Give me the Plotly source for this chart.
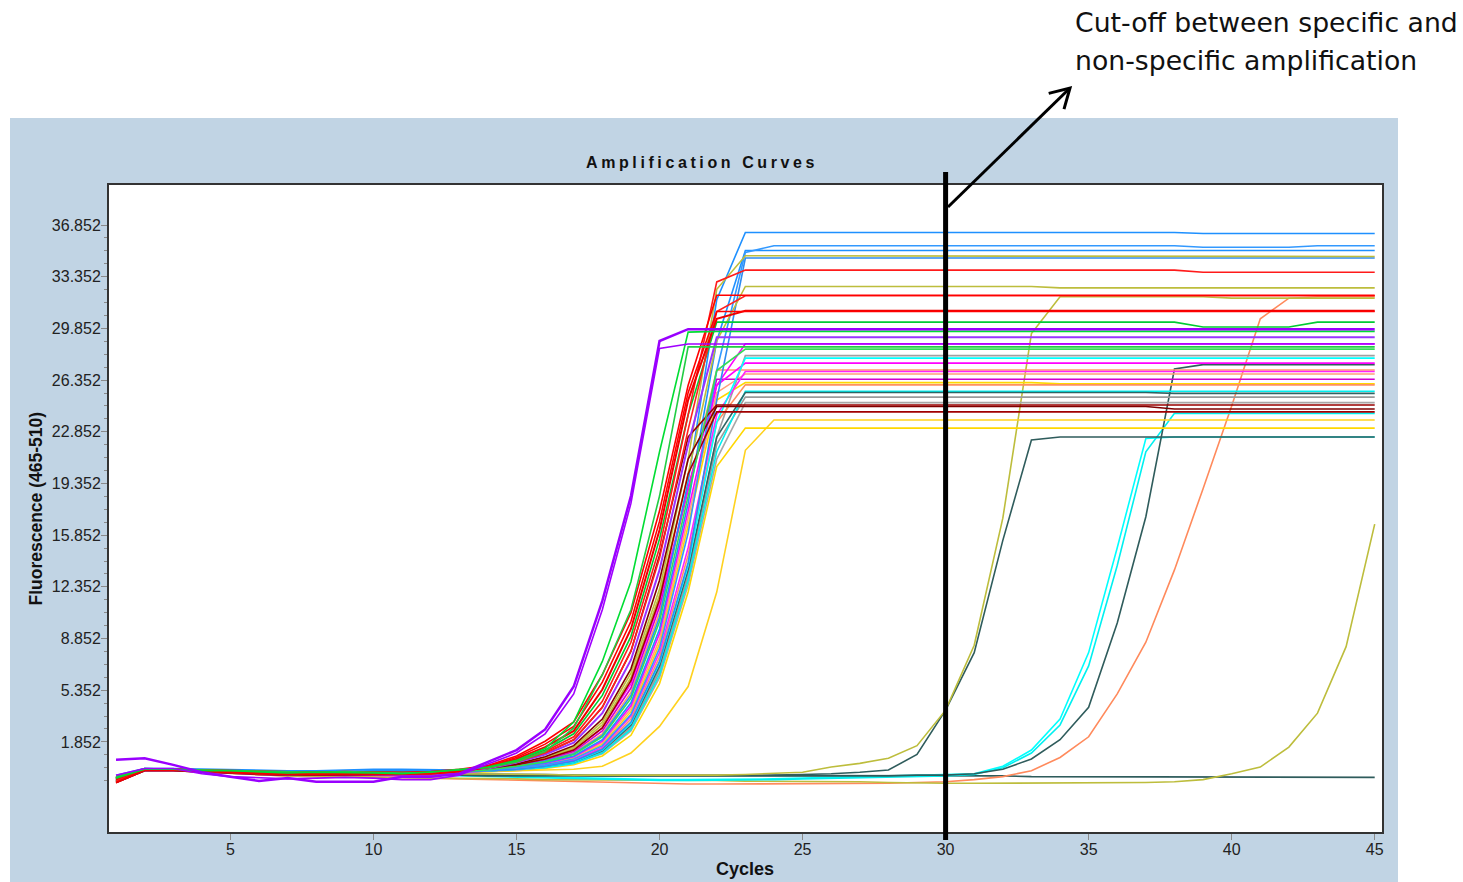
import plotly.graph_objects as go

# ---------------- data (fluorescence per cycle) ----------------
cycles = list(range(1, 46))

purple_a = [0.65, 0.75, 0.3, -0.2, -0.5, -0.8, -0.6, -0.85, -0.85, -0.85, -0.5, -0.5, -0.3,
            0.5, 1.3, 2.7, 5.6, 11.4, 18.5, 29.0, 29.8, 29.8, 29.8, 29.8, 29.8, 29.8, 29.8,
            29.8, 29.8, 29.8, 29.8, 29.8, 29.8, 29.8, 29.8, 29.8, 29.8, 29.8, 29.8, 29.8, 29.8,
            29.8, 29.8, 29.8, 29.8]
purple_b = [-0.4, 0.05, 0.05, -0.3, -0.5, -0.6, -0.65, -0.6, -0.55, -0.6, -0.7, -0.7, -0.4,
            0.35, 1.1, 2.4, 5.1, 10.8, 18.0, 28.5, 28.8, 28.8, 28.8, 28.8, 28.8, 28.8, 28.8,
            28.8, 28.8, 28.8, 28.8, 28.8, 28.8, 28.8, 28.8, 28.8, 28.8, 28.8, 28.8, 28.8, 28.8,
            28.8, 28.8, 28.8, 28.8]
green_a = [-0.6, 0.0, 0.0, -0.1, -0.1, -0.2, -0.25, -0.2, -0.2, -0.25, -0.3, -0.2, -0.05,
           0.15, 0.6, 1.4, 3.2, 7.3, 12.7, 21.5, 29.6, 29.65, 29.65, 29.65, 29.65, 29.65, 29.65,
           29.65, 29.65, 29.65, 29.65, 29.65, 29.65, 29.65, 29.65, 29.65, 29.65, 29.65, 29.65, 29.65, 29.65,
           29.65, 29.65, 29.65, 29.65]
green_b = [-0.5, 0.05, 0.0, -0.05, -0.1, -0.15, -0.2, -0.2, -0.15, -0.2, -0.25, -0.2, 0.0,
           0.1, 0.5, 1.2, 2.8, 6.4, 10.8, 18.5, 28.6, 28.6, 28.6, 28.6, 28.6, 28.6, 28.6,
           28.6, 28.6, 28.6, 28.6, 28.6, 28.6, 28.6, 28.6, 28.6, 28.6, 28.6, 28.6, 28.6, 28.6,
           28.6, 28.6, 28.6, 28.6]
red_a = [-0.7, 0.0, -0.05, -0.1, -0.15, -0.25, -0.3, -0.3, -0.25, -0.3, -0.3, -0.25, -0.1,
         0.2, 0.8, 1.7, 2.9, 5.9, 10.0, 16.8, 25.5, 31.0, 31.0, 31.0, 31.0, 31.0, 31.0,
         31.0, 31.0, 31.0, 31.0, 31.0, 31.0, 31.0, 31.0, 31.0, 31.0, 31.0, 31.0, 31.0, 31.0,
         31.0, 31.0, 31.0, 31.0]
red_b = [-0.9, -0.05, -0.05, -0.15, -0.2, -0.3, -0.35, -0.35, -0.3, -0.35, -0.35, -0.3, -0.15,
         0.15, 0.7, 1.5, 2.6, 5.4, 9.5, 16.2, 25.0, 30.5, 31.05, 31.05, 31.05, 31.05, 31.05,
         31.05, 31.05, 31.05, 31.05, 31.05, 31.05, 31.05, 31.05, 31.05, 31.05, 31.05, 31.05, 31.05, 31.05,
         31.05, 31.05, 31.05, 31.05]
red_c = [-0.6, 0.0, 0.0, -0.1, -0.15, -0.2, -0.3, -0.25, -0.25, -0.3, -0.3, -0.25, -0.1,
         0.1, 0.55, 1.2, 2.2, 4.6, 8.6, 15.0, 24.0, 33.0, 33.8, 33.8, 33.8, 33.8, 33.8,
         33.8, 33.8, 33.8, 33.8, 33.8, 33.8, 33.8, 33.8, 33.8, 33.8, 33.8, 33.65, 33.65, 33.65,
         33.65, 33.65, 33.65, 33.65]
red_d = [-0.8, -0.05, -0.05, -0.15, -0.2, -0.3, -0.3, -0.3, -0.3, -0.35, -0.35, -0.3, -0.15,
         0.1, 0.5, 1.1, 2.0, 4.2, 8.0, 14.3, 23.0, 31.0, 32.06, 32.06, 32.06, 32.06, 32.06,
         32.06, 32.06, 32.06, 32.06, 32.06, 32.06, 32.06, 32.06, 32.06, 32.06, 32.06, 32.06, 32.06, 32.06,
         32.06, 32.06, 32.06, 32.06]
red_e = [-0.5, 0.0, 0.0, -0.05, -0.1, -0.15, -0.2, -0.2, -0.15, -0.2, -0.2, -0.15, 0.0,
         0.25, 0.9, 1.9, 3.2, 6.4, 10.6, 17.5, 26.0, 32.1, 32.1, 32.1, 32.1, 32.1, 32.1,
         32.1, 32.1, 32.1, 32.1, 32.1, 32.1, 32.1, 32.1, 32.1, 32.1, 32.1, 32.1, 32.1, 32.1,
         32.1, 32.1, 32.1, 32.1]
darkred_a = [-0.7, 0.0, -0.05, -0.15, -0.2, -0.25, -0.3, -0.3, -0.3, -0.3, -0.35, -0.3, -0.15,
             0.1, 0.5, 1.1, 2.0, 4.2, 8.0, 14.5, 22.5, 24.67, 24.67, 24.67, 24.67, 24.67, 24.67,
             24.67, 24.67, 24.67, 24.67, 24.67, 24.67, 24.67, 24.67, 24.67, 24.67, 24.67, 24.67, 24.67, 24.67,
             24.67, 24.67, 24.67, 24.67]
darkred_b = [-0.9, -0.1, -0.1, -0.2, -0.25, -0.35, -0.4, -0.4, -0.35, -0.4, -0.4, -0.35, -0.2,
             0.05, 0.35, 0.85, 1.6, 3.4, 6.8, 12.8, 21.0, 24.56, 24.56, 24.56, 24.56, 24.56, 24.56,
             24.56, 24.56, 24.56, 24.56, 24.56, 24.56, 24.56, 24.56, 24.56, 24.56, 24.4, 24.4, 24.4, 24.4,
             24.4, 24.4, 24.4, 24.4]
darkred_c = [-0.6, 0.0, 0.0, -0.1, -0.15, -0.2, -0.25, -0.25, -0.2, -0.25, -0.3, -0.25, -0.1,
             0.0, 0.3, 0.7, 1.3, 2.8, 6.0, 11.5, 20.0, 24.2, 24.2, 24.2, 24.2, 24.2, 24.2,
             24.2, 24.2, 24.2, 24.2, 24.2, 24.2, 24.2, 24.2, 24.2, 24.2, 24.2, 24.2, 24.2, 24.2,
             24.2, 24.2, 24.2, 24.2]
blue_a = [-0.5, 0.05, 0.0, -0.05, -0.1, -0.15, -0.2, -0.15, -0.15, -0.1, -0.05, -0.1, -0.1,
          0.0, 0.2, 0.55, 1.05, 2.3, 5.0, 10.3, 19.5, 31.8, 36.35, 36.35, 36.35, 36.35, 36.35,
          36.35, 36.35, 36.35, 36.35, 36.35, 36.35, 36.35, 36.35, 36.35, 36.35, 36.35, 36.28, 36.28, 36.28,
          36.28, 36.28, 36.28, 36.28]
blue_b = [-0.7, 0.0, -0.05, -0.1, -0.15, -0.2, -0.2, -0.2, -0.2, -0.1, -0.1, -0.15, -0.15,
          -0.05, 0.1, 0.3, 0.7, 1.6, 3.7, 8.2, 16.0, 27.0, 35.0, 35.45, 35.45, 35.45, 35.45,
          35.45, 35.45, 35.45, 35.45, 35.45, 35.45, 35.45, 35.45, 35.45, 35.45, 35.45, 35.35, 35.35, 35.35,
          35.35, 35.45, 35.45, 35.45]
blue_c = [-0.4, 0.05, 0.05, 0.0, -0.05, -0.1, -0.1, -0.1, -0.05, 0.0, 0.0, -0.05, -0.05,
          -0.05, 0.15, 0.45, 0.9, 2.0, 4.5, 9.5, 18.0, 29.0, 35.13, 35.13, 35.13, 35.13, 35.13,
          35.13, 35.13, 35.13, 35.13, 35.13, 35.13, 35.13, 35.13, 35.13, 35.13, 35.13, 35.13, 35.13, 35.13,
          35.13, 35.13, 35.13, 35.13]
blue_d = [-0.8, -0.05, -0.05, -0.15, -0.2, -0.25, -0.3, -0.3, -0.2, -0.15, -0.15, -0.2, -0.2,
          -0.1, 0.0, 0.2, 0.55, 1.35, 3.2, 7.3, 14.0, 25.0, 34.62, 34.62, 34.62, 34.62, 34.62,
          34.62, 34.62, 34.62, 34.62, 34.62, 34.62, 34.62, 34.62, 34.62, 34.62, 34.62, 34.62, 34.62, 34.62,
          34.62, 34.62, 34.62, 34.62]
olive_a = [-0.6, 0.0, 0.0, -0.1, -0.15, -0.2, -0.25, -0.25, -0.2, -0.25, -0.25, -0.2, -0.05,
           0.05, 0.35, 0.8, 1.5, 3.2, 6.5, 12.2, 21.0, 32.5, 34.77, 34.77, 34.77, 34.77, 34.77,
           34.77, 34.77, 34.77, 34.77, 34.77, 34.77, 34.72, 34.72, 34.72, 34.72, 34.72, 34.72, 34.72, 34.72,
           34.72, 34.72, 34.72, 34.72]
olive_b = [-0.7, -0.05, 0.0, -0.1, -0.2, -0.25, -0.3, -0.3, -0.25, -0.3, -0.3, -0.25, -0.1,
           0.0, 0.3, 0.75, 1.4, 3.0, 6.2, 11.8, 20.0, 29.0, 32.69, 32.69, 32.69, 32.69, 32.69,
           32.69, 32.69, 32.69, 32.69, 32.69, 32.69, 32.6, 32.6, 32.6, 32.6, 32.6, 32.6, 32.6, 32.6,
           32.6, 32.6, 32.6, 32.6]
green_c = [-0.5, 0.0, 0.0, -0.05, -0.1, -0.2, -0.2, -0.2, -0.2, -0.2, -0.25, -0.2, -0.05,
           0.1, 0.6, 1.3, 2.4, 5.0, 9.0, 15.6, 24.0, 30.28, 30.28, 30.28, 30.28, 30.28, 30.28,
           30.28, 30.28, 30.28, 30.28, 30.28, 30.28, 30.28, 30.28, 30.28, 30.28, 30.28, 29.95, 29.95, 29.95,
           29.95, 30.28, 30.28, 30.28]
green_d = [-0.8, -0.05, -0.05, -0.15, -0.2, -0.3, -0.35, -0.35, -0.3, -0.35, -0.35, -0.3, -0.15,
           -0.05, 0.2, 0.5, 1.0, 2.2, 4.8, 10.0, 18.5, 27.0, 28.45, 28.45, 28.45, 28.45, 28.45,
           28.45, 28.45, 28.45, 28.45, 28.45, 28.45, 28.45, 28.45, 28.45, 28.45, 28.45, 28.45, 28.45, 28.45,
           28.45, 28.45, 28.45, 28.45]
purple_c = [-0.6, 0.0, 0.0, -0.1, -0.2, -0.3, -0.35, -0.3, -0.3, -0.3, -0.35, -0.35, -0.2,
            0.05, 0.45, 1.0, 1.8, 3.8, 7.4, 13.5, 22.0, 29.26, 29.26, 29.26, 29.26, 29.26, 29.26,
            29.26, 29.26, 29.26, 29.26, 29.26, 29.26, 29.26, 29.26, 29.26, 29.26, 29.26, 29.26, 29.26, 29.26,
            29.26, 29.26, 29.26, 29.26]
magenta_a = [-0.7, -0.05, -0.05, -0.1, -0.2, -0.25, -0.3, -0.3, -0.25, -0.3, -0.35, -0.3, -0.15,
             0.0, 0.3, 0.7, 1.3, 2.8, 5.8, 11.3, 19.0, 26.0, 28.81, 28.81, 28.81, 28.81, 28.81,
             28.81, 28.81, 28.81, 28.81, 28.81, 28.81, 28.81, 28.81, 28.81, 28.81, 28.81, 28.81, 28.81, 28.81,
             28.81, 28.81, 28.81, 28.81]
magenta_b = [-0.5, 0.0, 0.0, -0.05, -0.1, -0.15, -0.2, -0.2, -0.15, -0.2, -0.2, -0.15, -0.05,
             -0.05, 0.15, 0.4, 0.85, 1.9, 4.3, 9.2, 17.5, 26.0, 27.5, 27.5, 27.5, 27.5, 27.5,
             27.5, 27.5, 27.5, 27.5, 27.5, 27.5, 27.5, 27.5, 27.5, 27.5, 27.5, 27.5, 27.5, 27.5,
             27.5, 27.5, 27.5, 27.5]
magenta_c = [-0.9, -0.1, -0.1, -0.2, -0.25, -0.35, -0.4, -0.4, -0.35, -0.4, -0.45, -0.4, -0.25,
             -0.1, 0.05, 0.25, 0.6, 1.5, 3.6, 7.9, 15.0, 24.0, 26.93, 26.93, 26.93, 26.93, 26.93,
             26.93, 26.93, 26.93, 26.93, 26.93, 26.93, 26.93, 26.93, 26.93, 26.93, 26.93, 26.93, 26.93, 26.93,
             26.93, 26.93, 26.93, 26.93]
magenta_d = [-0.6, 0.0, -0.05, -0.1, -0.15, -0.2, -0.25, -0.25, -0.2, -0.25, -0.3, -0.25, -0.1,
             0.0, 0.25, 0.65, 1.2, 2.6, 5.5, 11.0, 19.0, 26.41, 26.41, 26.41, 26.41, 26.41, 26.41,
             26.41, 26.41, 26.41, 26.41, 26.41, 26.41, 26.41, 26.41, 26.41, 26.41, 26.41, 26.41, 26.41, 26.41,
             26.41, 26.41, 26.41, 26.41]
gray_a = [-0.8, -0.05, -0.05, -0.15, -0.2, -0.3, -0.35, -0.35, -0.3, -0.35, -0.4, -0.35, -0.25,
          -0.1, 0.0, 0.15, 0.45, 1.2, 2.9, 6.8, 13.2, 22.5, 28.01, 28.01, 28.01, 28.01, 28.01,
          28.01, 28.01, 28.01, 28.01, 28.01, 28.01, 28.01, 28.01, 28.01, 28.01, 28.01, 28.01, 28.01, 28.01,
          28.01, 28.01, 28.01, 28.01]
gray_b = [-0.7, -0.05, -0.05, -0.15, -0.2, -0.25, -0.3, -0.3, -0.3, -0.3, -0.35, -0.3, -0.2,
          -0.15, -0.05, 0.1, 0.4, 1.05, 2.6, 6.2, 12.5, 21.0, 24.83, 24.83, 24.83, 24.83, 24.83,
          24.83, 24.83, 24.83, 24.83, 24.83, 24.83, 24.83, 24.83, 24.83, 24.83, 24.83, 24.83, 24.83, 24.83,
          24.83, 24.83, 24.83, 24.83]
gray_c = [-0.9, -0.1, -0.1, -0.2, -0.25, -0.35, -0.4, -0.4, -0.35, -0.4, -0.45, -0.4, -0.3,
          -0.1, -0.05, 0.15, 0.45, 1.15, 2.8, 6.6, 13.0, 22.0, 25.2, 25.2, 25.2, 25.2, 25.2,
          25.2, 25.2, 25.2, 25.2, 25.2, 25.2, 25.2, 25.2, 25.2, 25.2, 25.2, 25.2, 25.2, 25.2,
          25.2, 25.2, 25.2, 25.2]
cyan_a = [-0.6, 0.0, 0.0, -0.1, -0.15, -0.2, -0.25, -0.2, -0.2, -0.25, -0.25, -0.2, -0.1,
          -0.1, 0.0, 0.2, 0.5, 1.3, 3.1, 7.2, 13.8, 23.5, 27.84, 27.84, 27.84, 27.84, 27.84,
          27.84, 27.84, 27.84, 27.84, 27.84, 27.84, 27.84, 27.84, 27.84, 27.84, 27.84, 27.84, 27.84, 27.84,
          27.84, 27.84, 27.84, 27.84]
cyan_b = [-0.8, -0.05, -0.05, -0.15, -0.2, -0.3, -0.3, -0.3, -0.3, -0.3, -0.35, -0.3, -0.2,
          -0.1, -0.05, 0.1, 0.4, 1.1, 2.7, 6.4, 12.8, 21.5, 25.6, 25.6, 25.6, 25.6, 25.6,
          25.6, 25.6, 25.6, 25.6, 25.6, 25.6, 25.6, 25.6, 25.6, 25.6, 25.6, 25.6, 25.6, 25.6,
          25.6, 25.6, 25.6, 25.6]
salmon_a = [-0.6, 0.0, 0.0, -0.1, -0.15, -0.2, -0.25, -0.25, -0.2, -0.25, -0.3, -0.25, -0.1,
            0.0, 0.25, 0.6, 1.1, 2.4, 5.2, 10.6, 19.0, 27.04, 27.04, 27.04, 27.04, 27.04, 27.04,
            27.04, 27.04, 27.04, 27.04, 27.04, 27.04, 27.04, 27.04, 27.04, 27.04, 27.04, 27.04, 27.04, 27.04,
            27.04, 27.04, 27.04, 27.04]
salmon_b = [-0.7, -0.05, -0.05, -0.15, -0.2, -0.25, -0.3, -0.3, -0.25, -0.3, -0.35, -0.3, -0.15,
            -0.05, 0.1, 0.35, 0.8, 1.8, 4.1, 8.8, 17.0, 25.5, 26.77, 26.77, 26.77, 26.77, 26.77,
            26.77, 26.77, 26.77, 26.77, 26.77, 26.77, 26.77, 26.77, 26.77, 26.77, 26.77, 26.77, 26.77, 26.77,
            26.77, 26.77, 26.77, 26.77]
salmon_c = [-0.9, -0.1, -0.1, -0.2, -0.3, -0.35, -0.4, -0.4, -0.35, -0.4, -0.45, -0.4, -0.25,
            -0.1, 0.05, 0.25, 0.6, 1.4, 3.4, 7.6, 14.5, 23.5, 26.03, 26.03, 26.03, 26.03, 26.03,
            26.03, 26.03, 26.03, 26.03, 26.03, 26.03, 26.03, 26.03, 26.03, 26.03, 26.03, 26.03, 26.03, 26.03,
            26.03, 26.03, 26.03, 26.03]
yellow_a = [-0.6, 0.0, 0.0, -0.1, -0.15, -0.2, -0.25, -0.25, -0.2, -0.25, -0.25, -0.2, -0.1,
            -0.05, 0.1, 0.35, 0.75, 1.7, 3.9, 8.5, 16.5, 25.0, 26.18, 26.18, 26.18, 26.18, 26.18,
            26.18, 26.18, 26.18, 26.18, 26.18, 26.18, 26.1, 26.1, 26.1, 26.1, 26.1, 26.1, 26.1, 26.1,
            26.1, 26.1, 26.1, 26.1]
yellow_b = [-0.8, -0.05, -0.05, -0.15, -0.25, -0.3, -0.35, -0.35, -0.35, -0.35, -0.4, -0.35, -0.25,
            -0.15, -0.1, -0.05, 0.0, 0.2, 1.1, 2.9, 5.6, 12.0, 21.6, 23.65, 23.65, 23.65, 23.65,
            23.65, 23.65, 23.65, 23.65, 23.65, 23.65, 23.65, 23.65, 23.65, 23.65, 23.65, 23.65, 23.65, 23.65,
            23.65, 23.65, 23.65, 23.65]
yellow_c = [-0.7, -0.05, -0.05, -0.1, -0.2, -0.25, -0.3, -0.3, -0.25, -0.3, -0.3, -0.25, -0.15,
            -0.15, -0.1, 0.05, 0.3, 0.9, 2.3, 5.8, 12.0, 20.5, 23.1, 23.1, 23.1, 23.1, 23.1,
            23.1, 23.1, 23.1, 23.1, 23.1, 23.1, 23.1, 23.1, 23.1, 23.1, 23.1, 23.1, 23.1, 23.1,
            23.1, 23.1, 23.1, 23.1]
teal_a = [-0.7, -0.05, -0.05, -0.15, -0.2, -0.25, -0.3, -0.3, -0.25, -0.3, -0.35, -0.3, -0.15,
          -0.1, 0.0, 0.2, 0.5, 1.25, 3.0, 7.0, 13.5, 22.5, 25.51, 25.51, 25.51, 25.51, 25.51,
          25.51, 25.51, 25.51, 25.51, 25.51, 25.51, 25.51, 25.51, 25.51, 25.51, 25.45, 25.45, 25.45, 25.45,
          25.45, 25.45, 25.45, 25.45]
olive_late1 = [-0.6, 0.0, 0.0, -0.1, -0.15, -0.2, -0.25, -0.25, -0.25, -0.3, -0.3, -0.3, -0.3,
               -0.3, -0.35, -0.35, -0.4, -0.4, -0.45, -0.45, -0.45, -0.4, -0.35, -0.3, -0.2, 0.15, 0.4,
               0.75, 1.6, 4.0, 8.4, 17.0, 29.5, 32.0, 32.0, 32.0, 32.0, 32.0, 32.0, 31.9, 31.9,
               31.9, 31.9, 31.9, 31.9]
teal_late1 = [-0.7, -0.05, -0.05, -0.15, -0.2, -0.25, -0.3, -0.3, -0.3, -0.35, -0.35, -0.35, -0.35,
              -0.35, -0.4, -0.4, -0.4, -0.45, -0.45, -0.45, -0.45, -0.45, -0.45, -0.4, -0.35, -0.3, -0.2,
              -0.05, 1.0, 4.0, 7.9, 15.5, 22.3, 22.5, 22.5, 22.5, 22.5, 22.5, 22.5, 22.5, 22.5,
              22.5, 22.5, 22.5, 22.5]
cyan_late_a = [-0.6, 0.0, 0.0, -0.1, -0.2, -0.25, -0.3, -0.3, -0.3, -0.3, -0.35, -0.35, -0.4,
               -0.45, -0.5, -0.55, -0.6, -0.65, -0.7, -0.7, -0.7, -0.7, -0.7, -0.65, -0.6, -0.55, -0.5,
               -0.5, -0.45, -0.4, -0.3, 0.2, 1.3, 3.4, 7.9, 15.0, 22.4, 22.5, 22.5, 22.5, 22.5,
               22.5, 22.5, 22.5, 22.5]
cyan_late_b = [-0.7, -0.05, -0.05, -0.15, -0.2, -0.3, -0.3, -0.3, -0.35, -0.35, -0.35, -0.4, -0.45,
               -0.5, -0.55, -0.6, -0.65, -0.7, -0.75, -0.75, -0.75, -0.75, -0.7, -0.7, -0.65, -0.6, -0.55,
               -0.55, -0.5, -0.45, -0.35, 0.1, 1.1, 3.0, 7.0, 13.8, 21.5, 24.1, 24.1, 24.1, 24.1,
               24.1, 24.1, 24.1, 24.1]
teal_late2 = [-0.8, -0.05, -0.05, -0.15, -0.2, -0.3, -0.35, -0.35, -0.35, -0.35, -0.4, -0.4, -0.4,
              -0.45, -0.45, -0.45, -0.45, -0.45, -0.5, -0.5, -0.5, -0.5, -0.5, -0.5, -0.5, -0.45, -0.45,
              -0.45, -0.4, -0.4, -0.3, 0.0, 0.7, 2.0, 4.2, 9.9, 17.1, 27.1, 27.4, 27.4, 27.4,
              27.4, 27.4, 27.4, 27.4]
salmon_late = [-0.9, -0.1, -0.1, -0.2, -0.3, -0.4, -0.45, -0.45, -0.5, -0.5, -0.55, -0.6, -0.65,
               -0.7, -0.75, -0.8, -0.85, -0.9, -0.95, -0.95, -1.0, -1.0, -1.0, -1.0, -1.0, -0.95, -0.95,
               -0.95, -0.9, -0.85, -0.7, -0.5, -0.1, 0.8, 2.2, 5.1, 8.6, 13.5, 19.0, 24.6, 30.5,
               31.9, 32.0, 32.0, 32.0]
olive_late2 = [-0.9, -0.1, -0.1, -0.2, -0.3, -0.4, -0.45, -0.5, -0.5, -0.55, -0.55, -0.6, -0.6,
               -0.65, -0.65, -0.7, -0.7, -0.7, -0.75, -0.75, -0.75, -0.75, -0.8, -0.8, -0.8, -0.85, -0.85,
               -0.9, -0.95, -0.95, -0.95, -0.95, -0.95, -0.95, -0.95, -0.95, -0.9, -0.85, -0.7, -0.3, 0.15,
               1.5, 3.8, 8.3, 16.6]
teal_flat = [-0.7, -0.05, -0.05, -0.15, -0.2, -0.25, -0.3, -0.3, -0.3, -0.3, -0.3, -0.35, -0.35,
             -0.35, -0.35, -0.35, -0.4, -0.4, -0.4, -0.4, -0.4, -0.4, -0.4, -0.4, -0.4, -0.4, -0.4,
             -0.4, -0.4, -0.45, -0.45, -0.45, -0.5, -0.5, -0.5, -0.55, -0.55, -0.55, -0.55, -0.55, -0.55,
             -0.55, -0.55, -0.55, -0.55]

# (values, colour, line width)
series = [
    (teal_flat, "#2F5C5C", 1.6), (salmon_late, "#FF8A5C", 1.6), (olive_late2, "#BDBD3C", 1.6),
    (cyan_late_a, "#00FFFF", 1.6), (cyan_late_b, "#00F0F0", 1.6), (teal_late2, "#2F5C5C", 1.6),
    (teal_late1, "#2F5C5C", 1.6), (olive_late1, "#BDBD3C", 1.6),
    (yellow_b, "#FFD21F", 1.6), (yellow_c, "#FFD700", 1.6), (gray_c, "#9A9A9A", 1.6),
    (gray_b, "#A8A8A8", 1.6), (gray_a, "#A0A0A0", 1.6), (cyan_b, "#00F0F0", 1.6),
    (teal_a, "#2F6464", 1.6), (yellow_a, "#FFD700", 1.6), (salmon_c, "#FF9060", 1.6),
    (salmon_b, "#FFA07A", 1.6), (salmon_a, "#FF9966", 1.6), (magenta_d, "#D000D0", 1.6),
    (magenta_c, "#FF22FF", 1.6), (magenta_b, "#FF00FF", 1.6), (magenta_a, "#FF00FF", 1.6),
    (cyan_a, "#00FFFF", 1.6), (blue_d, "#2E8BF0", 1.6), (blue_c, "#1E90FF", 1.6),
    (blue_b, "#3399FF", 1.6), (blue_a, "#1E90FF", 1.6), (olive_b, "#BDBD3C", 1.6),
    (olive_a, "#BDBD3C", 1.6), (darkred_c, "#A00000", 1.6), (darkred_b, "#800000", 1.6),
    (darkred_a, "#990000", 1.6), (purple_c, "#9933FF", 2.0), (green_d, "#33DD55", 1.6),
    (green_c, "#00CC33", 1.6), (red_d, "#FF2020", 1.6), (red_c, "#FF1A1A", 1.6),
    (red_b, "#EE0000", 2.0), (red_a, "#FF0000", 1.6), (red_e, "#FF0000", 1.6),
    (green_b, "#22CC44", 1.6), (green_a, "#00DD33", 1.6), (purple_b, "#A000FF", 1.6),
    (purple_a, "#9900FF", 2.5),
]

y_ticks = [1.852, 5.352, 8.852, 12.352, 15.852, 19.352, 22.852, 26.352, 29.852, 33.352, 36.852]
x_ticks = [5, 10, 15, 20, 25, 30, 35, 40, 45]
cutoff_cycle = 30

# ---------------- layout geometry ----------------
W, H = 1463, 882
L, R, T, B = 109, 1382, 185, 832
x_range = [0.755, 45.255]
y_range = [-4.248, 39.563]


def fx(px):
    return (px - L) / (R - L)


def fy(py):
    return (B - py) / (B - T)


fig = go.Figure()
for vals, col, w in series:
    fig.add_trace(go.Scatter(x=cycles[:len(vals)], y=vals, mode="lines",
                             line=dict(color=col, width=w), showlegend=False,
                             hoverinfo="skip"))

tick_font = dict(family="Liberation Sans, Arial, sans-serif", size=16, color="#222222")
minor_vals = [round(1.852 + 0.875 * k, 3) for k in range(-3, 41) if k % 4 != 0]

fig.update_layout(
    width=W, height=H,
    margin=dict(l=L, r=W - R, t=T, b=H - B, pad=0),
    paper_bgcolor="#C1D4E4",
    plot_bgcolor="#FFFFFF",
    showlegend=False,
    xaxis=dict(range=x_range, tickvals=x_ticks, ticktext=[str(v) for v in x_ticks],
               ticks="outside", ticklen=6, tickcolor="#8A8A8A", tickwidth=1,
               ticklabelstandoff=-4,
               showgrid=False, zeroline=False, showline=True, mirror=True,
               linecolor="#333333", linewidth=2, tickfont=tick_font),
    yaxis=dict(range=y_range, tickvals=y_ticks, ticktext=["%.3f" % v for v in y_ticks],
               ticks="outside", ticklen=6, tickcolor="#8A8A8A", tickwidth=1,
               ticklabelstandoff=-3,
               minor=dict(tickvals=minor_vals, ticks="outside", ticklen=3,
                          tickcolor="#8A8A8A", showgrid=False),
               showgrid=False, zeroline=False, showline=True, mirror=True,
               linecolor="#333333", linewidth=2, tickfont=tick_font),
)

shapes = []
# white page outside the blue panel
shapes.append(dict(type="rect", xref="paper", yref="paper", x0=-0.2, x1=1.2,
                   y0=fy(118), y1=1.4, fillcolor="white", line=dict(width=0)))
shapes.append(dict(type="rect", xref="paper", yref="paper", x0=-0.2, x1=fx(10),
                   y0=-0.2, y1=1.4, fillcolor="white", line=dict(width=0)))
shapes.append(dict(type="rect", xref="paper", yref="paper", x0=fx(1398), x1=1.2,
                   y0=-0.2, y1=1.4, fillcolor="white", line=dict(width=0)))
# cut-off line at cycle 30
cut_fx = (cutoff_cycle - x_range[0]) / (x_range[1] - x_range[0])
shapes.append(dict(type="line", xref="paper", yref="paper", x0=cut_fx, x1=cut_fx,
                   y0=fy(840), y1=fy(172), line=dict(color="black", width=5)))
# arrow shaft + open head
tail = (948, 207)
tip = (1070, 88)
shapes.append(dict(type="line", xref="paper", yref="paper", x0=fx(tail[0]), y0=fy(tail[1]),
                   x1=fx(tip[0]), y1=fy(tip[1]), line=dict(color="black", width=3)))
arm1 = (1048.7, 93.4)
arm2 = (1064.0, 109.2)
shapes.append(dict(type="path", xref="paper", yref="paper",
                   path="M %f,%f L %f,%f L %f,%f" % (fx(arm1[0]), fy(arm1[1]), fx(tip[0]), fy(tip[1]),
                                                   fx(arm2[0]), fy(arm2[1])),
                   line=dict(color="black", width=3)))
fig.update_layout(shapes=shapes)

annotations = [
    dict(text="<b>Amplification Curves</b>", xref="paper", yref="paper", x=fx(701.5), y=fy(162),
         xanchor="center", yanchor="middle", showarrow=False,
         font=dict(family="Liberation Sans, Arial, sans-serif", size=16, color="#111111")),
    dict(text="<b>Fluorescence (465-510)</b>", xref="paper", yref="paper", x=fx(35), y=fy(508.5),
         xanchor="center", yanchor="middle", showarrow=False, textangle=-90,
         font=dict(family="Liberation Sans, Arial, sans-serif", size=17.5, color="#111111")),
    dict(text="<b>Cycles</b>", xref="paper", yref="paper", x=fx(745), y=fy(869),
         xanchor="center", yanchor="middle", showarrow=False,
         font=dict(family="Liberation Sans, Arial, sans-serif", size=18, color="#111111")),
    dict(text="Cut-off between specific and", xref="paper", yref="paper", x=fx(1073), y=fy(22.5),
         xanchor="left", yanchor="middle", showarrow=False,
         font=dict(family="DejaVu Sans, Verdana, sans-serif", size=26.7, color="#111111")),
    dict(text="non-specific amplification", xref="paper", yref="paper", x=fx(1073), y=fy(60),
         xanchor="left", yanchor="middle", showarrow=False,
         font=dict(family="DejaVu Sans, Verdana, sans-serif", size=26.7, color="#111111")),
]
fig.update_layout(annotations=annotations)

post = ("document.querySelectorAll('.annotation-text').forEach(function(e){"
        "if(e.textContent==='Amplification Curves'){e.style.letterSpacing='3.6px';}});")
fig.write_html("out.html", post_script=post)
